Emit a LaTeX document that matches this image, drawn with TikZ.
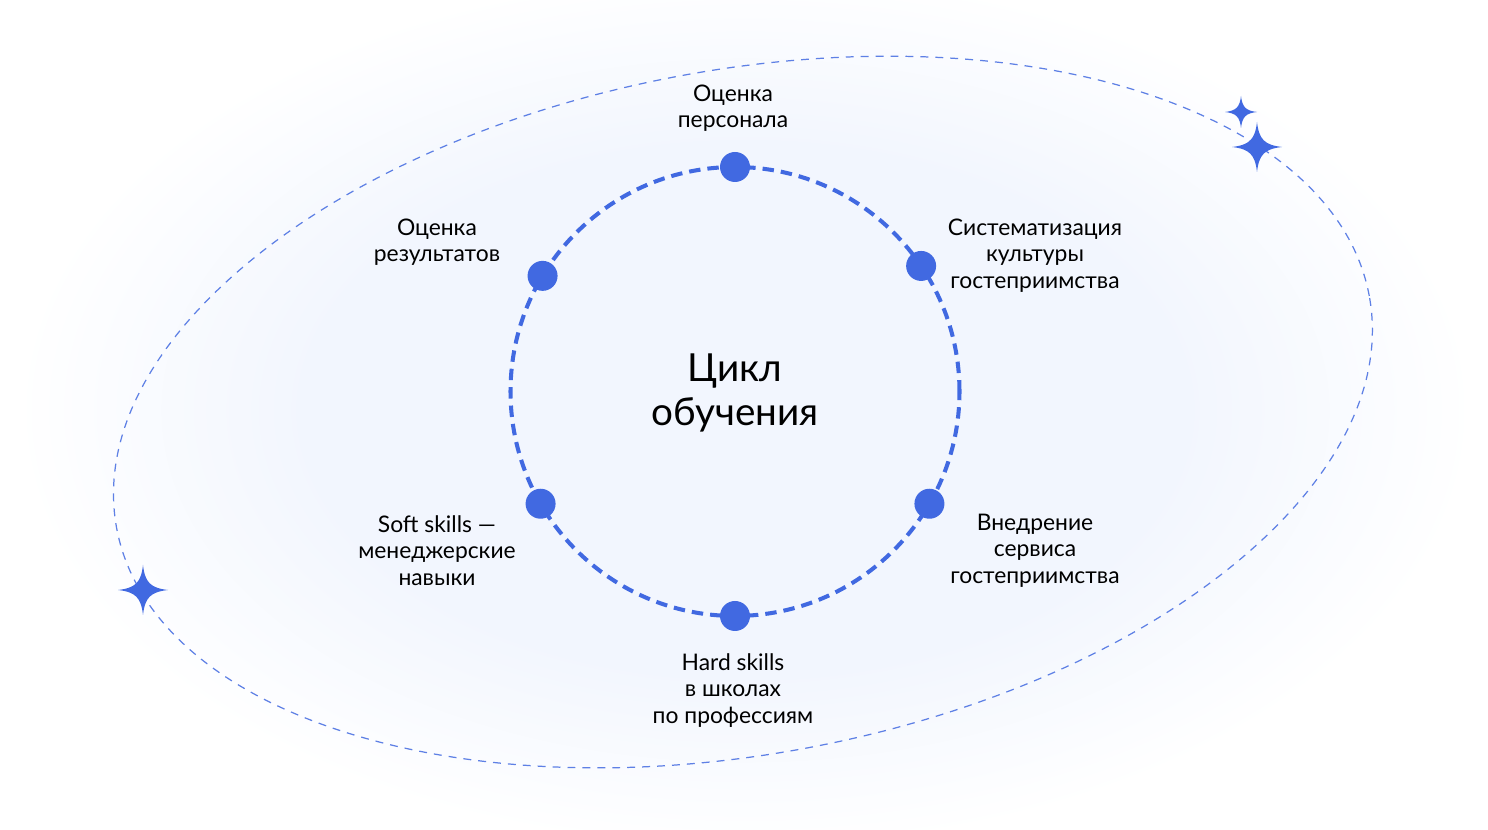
\documentclass[tikz,border=0pt]{standalone}
\usepackage{fontspec}
\setmainfont{Lato}
\usepackage{tikz}
\usetikzlibrary{calc}

\definecolor{dotblue}{RGB}{65,105,225}
\definecolor{glowblue}{RGB}{242,246,254}
\pgfdeclareradialshading{softglow}{\pgfpoint{0bp}{0bp}}{color(0bp)=(glowblue); color(15bp)=(glowblue); color(25bp)=(white); color(50bp)=(white)}

% four-point star: centre, half size
\newcommand{\sparkle}[2]{%
  \fill[dotblue, shift={(#1)}, scale=#2] (0,1) .. controls (0.08,0.3) and (0.3,0.08) .. (1,0)
    .. controls (0.3,-0.08) and (0.08,-0.3) .. (0,-1)
    .. controls (-0.08,-0.3) and (-0.3,-0.08) .. (-1,0)
    .. controls (-0.3,0.08) and (-0.08,0.3) .. (0,1) -- cycle;}

\tikzset{
  cycledot/.style={circle, fill=dotblue, inner sep=0pt, minimum size=0.6cm},
  steplabel/.style={align=center, text=black, font=\fontsize{13}{15}\selectfont},
  orbit/.style={dotblue!85, line width=0.7pt, dash pattern=on 4.5pt off 4pt},
  ring/.style={dotblue, line width=2.3pt, dash pattern=on 6.5pt off 4pt}
}

\begin{document}
\begin{tikzpicture}[x=0.02cm, y=0.02cm]
  \useasboundingbox (0,0) rectangle (1488,830);
  \fill[white] (0,0) rectangle (1488,830);
  \shade[shading=softglow] (745,420) ellipse [x radius=730, y radius=440];

  \coordinate (O) at (735,438.5);
  \coordinate (C) at (743,418);

  % outer orbit
  \draw[orbit, rotate around={10.5:(C)}] (C) ellipse [x radius=637, y radius=342];
  \sparkle{1257,683}{25}
  \sparkle{1241,718}{16}
  \sparkle{143,240}{25}

  % inner cycle
  \draw[ring] (O) circle [radius=224.5];
  \foreach \a/\n in {90/top, 34/right1, -30/right2, -90/bottom, 210/left2, 149/left1}
    \node[cycledot] (dot-\n) at ($(O)+(\a:224.5)$) {};

  \node[font=\fontsize{22}{25}\selectfont, align=center] (title) at (735,437) {Цикл\\обучения};

  \node[steplabel] (lbl-top) at (733,721.5) {Оценка\\персонала};
  \node[steplabel] (lbl-right1) at (1035,574.5) {Систематизация\\культуры\\гостеприимства};
  \node[steplabel] (lbl-right2) at (1035,279.5) {Внедрение\\сервиса\\гостеприимства};
  \node[steplabel] (lbl-bottom) at (733,139.5) {Hard skills\\в школах\\по профессиям};
  \node[steplabel] (lbl-left2) at (437,279.5) {Soft skills —\\менеджерские\\навыки};
  \node[steplabel] (lbl-left1) at (437,587.5) {Оценка\\результатов};
\end{tikzpicture}
\end{document}
